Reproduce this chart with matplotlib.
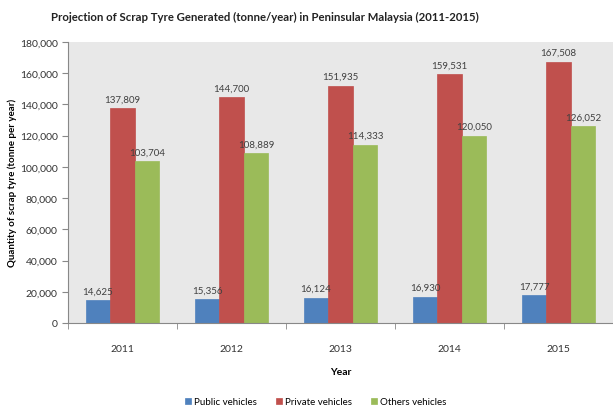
import numpy as np
import matplotlib.pyplot as plt
from matplotlib.ticker import FuncFormatter

years = ['2011', '2012', '2013', '2014', '2015']
public = [14625, 15356, 16124, 16930, 17777]
private = [137809, 144700, 151935, 159531, 167508]
others = [103704, 108889, 114333, 120050, 126052]

plt.rcParams['font.family'] = ['Lato', 'DejaVu Sans']

fig = plt.figure(figsize=(6.13, 4.06), dpi=100)
ax = fig.add_axes([0.111, 0.202, 0.889, 0.692])
ax.set_facecolor('#e8e8e8')

x = np.arange(len(years))
w = 0.225
series = [(public, '#4f81bd', 'Public vehicles'),
          (private, '#c0504d', 'Private vehicles'),
          (others, '#9bbb59', 'Others vehicles')]
for i, (vals, col, name) in enumerate(series):
    bars = ax.bar(x + (i - 1) * w, vals, w, color=col, label=name,
                  edgecolor=col, linewidth=0.5)
    for b, v in zip(bars, vals):
        ax.text(b.get_x() + b.get_width() / 2, v + 3000, f'{v:,}',
                ha='center', va='bottom', fontsize=7, color='#404040')

ax.set_xlim(-0.5, 4.5)
ax.set_ylim(0, 180000)
ax.set_yticks(np.arange(0, 180001, 20000))
ax.yaxis.set_major_formatter(FuncFormatter(lambda v, p: f'{int(v):,}'))
ax.set_xticks(x)
ax.set_xticklabels(years)
ax.set_xticks(np.arange(-0.5, 5, 1), minor=True)
ax.tick_params(axis='x', which='major', length=0, pad=15)
ax.tick_params(axis='x', which='minor', length=4, color='#888888')
ax.tick_params(axis='y', length=4, color='#888888')
ax.tick_params(labelsize=7.5, labelcolor='#333333')
for s in ['top', 'right']:
    ax.spines[s].set_visible(False)
ax.spines['left'].set_color('#888888')
ax.spines['bottom'].set_color('#888888')

ax.set_xlabel('Year', fontsize=7.5, fontweight='bold', labelpad=10)
fig.text(0.02, 0.55, 'Quantity of scrap tyre (tonne per year)', rotation=90,
         ha='center', va='center', fontsize=7, fontweight='bold')
fig.text(0.432, 0.956, 'Projection of Scrap Tyre Generated (tonne/year) in Peninsular Malaysia (2011-2015)',
         ha='center', va='center', fontsize=8.2, fontweight='bold', color='#222222')

fig.legend(loc='lower center', bbox_to_anchor=(0.515, -0.025), ncol=3, frameon=False,
           fontsize=7, handlelength=0.6, handleheight=0.6, handletextpad=0.3,
           columnspacing=2.0)

fig.savefig('out.png', dpi=100)
